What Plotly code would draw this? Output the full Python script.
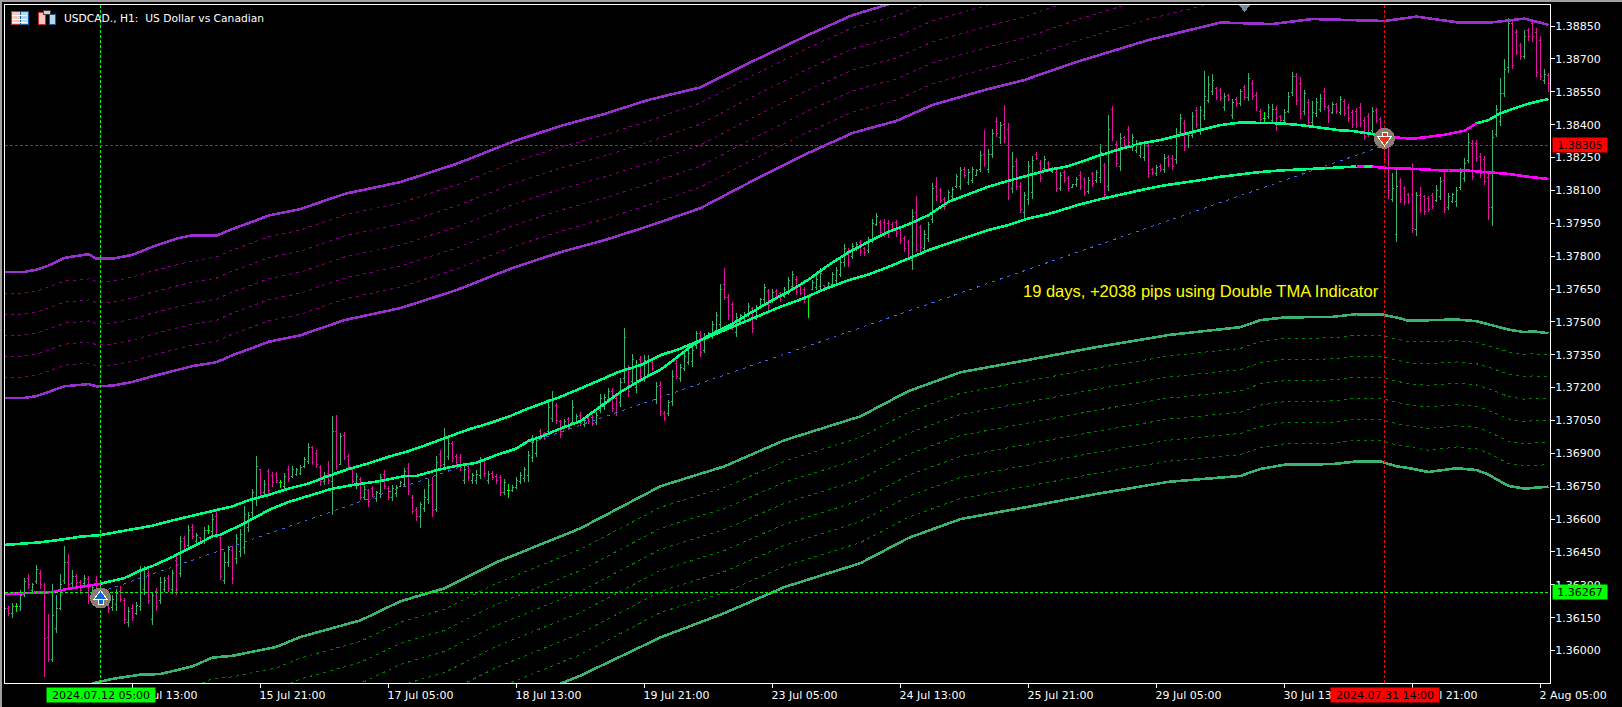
import plotly.graph_objects as go

# ---------- data: prices are stored as points above 1.36000 (1 point = 0.00001) ----------
time_ticks = [0, 32, 64, 96, 128, 160, 192, 224, 256, 288, 320, 352, 384]
time_labels = ["11 Jul 2024", "12 Jul 13:00", "15 Jul 21:00", "17 Jul 05:00", "18 Jul 13:00",
               "19 Jul 21:00", "23 Jul 05:00", "24 Jul 13:00", "25 Jul 21:00", "29 Jul 05:00",
               "30 Jul 13:00", "31 Jul 21:00", "2 Aug 05:00"]
price_ticks = [1.36000, 1.36150, 1.36300, 1.36450, 1.36600, 1.36750, 1.36900, 1.37050, 1.37200, 1.37350,
               1.37500, 1.37650, 1.37800, 1.37950, 1.38100, 1.38250, 1.38400, 1.38550, 1.38700, 1.38850]

highs = [
202,202,217,217,275,333,351,310,389,366,308,168,302,252,351,476,442,366,351,323,
345,342,305,339,305,282,260,252,282,293,241,199,211,221,386,387,374,269,285,334,
336,343,366,435,524,524,572,579,538,518,564,573,622,637,526,450,479,476,530,556,
658,632,739,887,830,777,830,816,816,777,812,841,841,835,846,884,945,933,917,846,
816,864,1070,1074,991,997,896,834,811,793,750,739,750,729,808,823,750,755,755,773,
831,858,709,656,679,736,785,790,887,914,1015,968,957,896,896,846,854,811,823,884,
881,820,820,808,803,785,762,755,790,816,838,910,986,978,1009,998,1150,1184,1132,1054,
1059,1066,1142,1079,1088,1059,1069,1074,1089,1170,1170,1196,1196,1165,1246,1474,1302,1352,1328,1343,
1348,1348,1325,1226,1229,1091,1145,1279,1325,1310,1356,1371,1386,1459,1459,1447,1454,1503,1546,1675,
1744,1629,1590,1541,1538,1546,1584,1569,1579,1611,1672,1652,1648,1652,1637,1660,1706,1731,1709,1668,
1660,1622,1690,1713,1748,1668,1683,1728,1751,1786,1855,1835,1861,1865,1873,1843,1888,1969,1995,1964,
1969,1964,1957,1967,1931,1894,1873,2013,2074,1942,1919,1957,2136,2159,2112,2071,2101,2117,2177,2205,
2205,2196,2208,2197,2279,2375,2287,2378,2433,2410,2490,2406,2273,2246,2139,2094,2235,2257,2273,2238,
2257,2235,2205,2193,2185,2193,2167,2129,2162,2188,2162,2159,2185,2193,2311,2226,2444,2485,2325,2360,
2348,2394,2357,2330,2322,2322,2314,2200,2216,2220,2266,2261,2261,2383,2447,2421,2368,2459,2482,2486,
2645,2623,2631,2573,2566,2546,2540,2515,2525,2561,2581,2634,2604,2547,2470,2458,2494,2494,2485,2444,
2471,2547,2639,2634,2616,2558,2517,2509,2520,2538,2566,2490,2502,2500,2531,2515,2493,2467,2474,2497,
2436,2451,2479,2474,2436,2368,2322,2178,2197,2155,2121,2086,2223,2094,2114,2079,2074,2086,2124,2162,
2185,2089,2089,2117,2200,2246,2360,2330,2330,2269,2258,2178,2375,2490,2611,2698,2885,2878,2835,2771,
2832,2840,2881,2840,2805,2652,2634]

lows = [
153,156,147,176,180,244,282,260,302,282,-121,-52,-52,80,183,305,282,290,295,260,
295,214,221,244,206,199,171,179,179,221,123,107,133,161,179,255,211,116,180,214,
267,267,260,253,336,460,470,508,485,495,488,534,526,515,320,302,381,302,394,427,
439,541,610,658,698,704,709,747,765,742,735,770,788,796,800,831,851,846,835,750,
755,762,618,823,846,869,826,755,739,686,689,656,701,679,698,739,686,683,701,747,
750,709,622,590,558,633,668,610,633,831,835,869,860,843,820,762,774,762,759,785,
793,762,777,762,706,709,697,724,739,762,770,770,861,884,967,960,983,1044,1036,969,
1013,1005,1028,1033,1024,1021,1036,1024,1028,1082,1100,1132,1089,1069,1112,1219,1158,1216,1176,1234,
1226,1249,1276,1127,1069,1048,1069,1117,1238,1226,1276,1302,1292,1378,1340,1356,1424,1424,1447,1459,
1602,1508,1465,1432,1492,1508,1520,1450,1508,1561,1584,1556,1584,1602,1591,1607,1622,1645,1622,1622,
1587,1518,1645,1645,1645,1645,1652,1657,1675,1703,1751,1751,1789,1824,1802,1802,1815,1858,1937,1896,
1888,1884,1914,1888,1855,1820,1794,1736,1817,1820,1820,1865,1952,2053,2041,2010,2041,2056,2109,2101,
2158,2124,2132,2165,2185,2205,2178,2246,2345,2310,2314,2056,2086,2101,1998,1972,2033,2063,2238,2139,
2193,2185,2178,2094,2097,2132,2097,2109,2117,2104,2074,2083,2114,2135,2135,2063,2097,2325,2208,2188,
2292,2302,2281,2269,2246,2234,2158,2170,2165,2185,2181,2205,2193,2220,2353,2280,2292,2337,2383,2353,
2421,2497,2535,2512,2509,2464,2508,2424,2482,2485,2512,2509,2512,2464,2409,2409,2424,2406,2372,2413,
2406,2451,2531,2490,2426,2444,2395,2394,2436,2459,2467,2409,2448,2448,2444,2439,2413,2383,2383,2388,
2330,2342,2360,2406,2337,2223,2059,2045,1866,2041,2033,2038,1904,1891,1995,1987,2003,2013,2048,2056,
1995,2010,2041,2025,2101,2140,2223,2147,2231,2158,2124,1964,1937,2342,2394,2528,2634,2654,2718,2695,
2698,2783,2779,2619,2604,2585,2550]

opens = [
165,190,170,200,200,260,330,275,315,350,295,60,-40,100,190,320,400,305,340,310,
305,325,240,320,230,270,240,195,210,270,230,130,190,170,200,280,350,140,270,230,
280,330,280,410,350,510,480,560,500,515,500,550,545,610,515,320,400,455,420,450,
470,560,630,700,825,720,815,800,805,765,750,825,795,805,810,840,865,925,900,835,
770,810,770,1000,850,980,885,825,755,780,700,730,740,695,715,805,740,700,715,750,
760,830,700,640,610,650,690,760,645,895,850,885,945,885,880,775,840,775,775,800,
865,775,810,795,790,720,730,730,745,770,785,800,880,900,1000,990,1000,1060,1120,1045,
1020,1055,1040,1040,1075,1030,1060,1065,1040,1095,1115,1145,1180,1150,1130,1240,1285,1230,1200,1330,
1245,1260,1315,1145,1210,1080,1080,1135,1310,1240,1285,1315,1320,1390,1445,1370,1430,1435,1460,1490,
1670,1610,1580,1450,1500,1515,1530,1560,1520,1570,1600,1640,1595,1640,1630,1615,1640,1660,1695,1660,
1650,1610,1650,1655,1660,1665,1660,1670,1690,1715,1770,1820,1800,1830,1860,1835,1825,1875,1945,1955,
1955,1950,1945,1955,1920,1880,1860,1780,2000,1930,1835,1880,1965,2120,2100,2060,2050,2070,2120,2120,
2195,2135,2145,2170,2195,2265,2195,2265,2415,2340,2400,2380,2110,2230,2120,2000,2060,2090,2265,2225,
2200,2225,2185,2180,2110,2180,2155,2112,2125,2170,2150,2095,2175,2145,2160,2215,2120,2470,2310,2210,
2340,2380,2295,2280,2260,2250,2300,2195,2175,2210,2195,2250,2245,2240,2365,2405,2305,2350,2465,2370,
2440,2510,2550,2565,2555,2480,2535,2440,2515,2495,2570,2525,2590,2535,2460,2430,2435,2420,2470,2435,
2420,2460,2545,2620,2590,2460,2500,2410,2450,2470,2550,2480,2455,2490,2455,2505,2480,2455,2460,2480,
2420,2435,2375,2465,2425,2350,2300,2060,1900,2140,2110,2080,2080,1920,2075,2070,2065,2075,2055,2070,
2145,2020,2050,2050,2115,2155,2235,2315,2315,2255,2240,2160,2020,2355,2415,2540,2660,2860,2820,2760,
2710,2830,2860,2820,2785,2600,2625]

closes = [
190,170,200,200,250,315,300,300,370,300,55,-40,160,190,300,400,300,340,310,275,
330,240,290,260,280,215,190,235,260,235,140,180,150,205,360,370,230,250,200,310,
320,285,350,280,500,475,550,520,525,500,550,550,600,530,340,400,460,330,510,530,
620,615,720,840,720,760,730,765,775,765,795,785,825,825,835,870,925,860,850,770,
800,775,1000,840,975,880,840,770,795,700,735,680,710,720,790,750,700,740,745,765,
815,725,635,610,665,700,755,640,860,845,975,945,875,860,835,825,790,800,805,865,
810,805,790,775,720,765,730,745,775,800,825,890,950,960,980,970,1110,1150,1050,985,
1045,1020,1110,1070,1035,1050,1045,1035,1075,1150,1155,1180,1105,1085,1225,1430,1180,1330,1300,1250,
1325,1330,1285,1205,1090,1060,1130,1250,1250,1290,1340,1355,1370,1445,1360,1430,1445,1490,1530,1650,
1610,1530,1480,1520,1530,1535,1570,1470,1565,1600,1655,1575,1635,1615,1600,1650,1690,1715,1635,1630,
1600,1610,1680,1695,1720,1650,1675,1715,1735,1770,1835,1770,1845,1855,1820,1815,1875,1950,1980,1910,
1905,1900,1925,1905,1870,1835,1810,1980,1830,1840,1900,1945,2110,2070,2055,2025,2090,2105,2165,2190,
2170,2180,2195,2190,2260,2225,2265,2360,2360,2395,2335,2140,2210,2120,2015,2075,2210,2235,2245,2155,
2240,2195,2200,2110,2170,2145,2110,2125,2150,2120,2090,2145,2130,2180,2275,2080,2380,2340,2225,2335,
2305,2320,2340,2315,2305,2305,2175,2180,2205,2195,2245,2220,2210,2355,2430,2300,2350,2435,2400,2465,
2530,2585,2600,2525,2520,2530,2515,2500,2495,2550,2525,2610,2530,2480,2425,2430,2480,2470,2430,2420,
2455,2530,2620,2510,2450,2540,2410,2455,2500,2520,2485,2465,2490,2460,2515,2450,2430,2400,2395,2405,
2345,2360,2460,2420,2350,2240,2100,2110,2120,2060,2050,2050,1925,2075,2010,2005,2015,2025,2100,2140,
2015,2070,2080,2100,2180,2225,2320,2165,2245,2175,2140,2020,2340,2470,2540,2650,2860,2670,2730,2710,
2800,2800,2800,2640,2620,2630,2590]

fast_x = [0,7,12,16,20,24,30,34,37,42,47,52,54,59,64,66,71,76,82,87,94,100,103,108,113,118,123,128,131,134,
          139,144,149,154,159,164,167,172,177,182,187,192,197,201,206,211,216,221,226,231,236,241,246,251,256,261,266,
          269,274,279,284,289,294,299,304,309,314,319,324,329,334,337,342,345,350,352,355,360,365,368,371,374,377,380,383,386]
fast_y = [258,263,267,282,295,305,331,366,386,427,473,521,529,572,620,641,678,706,739,755,774,796,797,823,843,857,892,922,957,975,
          1013,1047,1112,1180,1234,1282,1322,1394,1447,1492,1546,1599,1648,1693,1759,1817,1865,1911,1945,1987,2048,2082,2117,2144,2170,2193,2211,
          2231,2261,2289,2314,2330,2353,2378,2398,2410,2409,2406,2398,2385,2374,2371,2357,2345,2337,2336,2342,2354,2372,2406,2421,2452,2471,2490,2505,2517]
slow_x = [0,4,9,14,19,24,29,34,37,42,47,52,57,61,66,71,76,81,86,91,96,101,106,111,116,121,126,131,134,
          139,144,149,154,159,164,169,174,179,184,189,194,199,205,211,216,221,226,231,236,241,246,251,256,261,266,
          269,274,279,284,289,294,299,304,309,314,319,324,329,334,338,340,342,346,351,356,361,366,371,376,381,386]
slow_y = [482,488,494,506,520,527,544,561,570,594,614,637,658,686,710,739,762,797,828,854,884,910,942,975,1009,1036,1067,1105,1125,
          1158,1196,1234,1275,1302,1348,1378,1416,1454,1492,1531,1569,1602,1649,1690,1716,1751,1789,1827,1858,1888,1919,1942,1972,1992,2022,
          2037,2060,2082,2101,2120,2132,2147,2162,2173,2184,2191,2197,2200,2205,2209,2209,2208,2202,2199,2194,2190,2190,2181,2175,2162,2152]

upper_x = [0,5,8,11,15,21,23,27,32,37,43,47,53,57,62,66,74,85,99,113,127,139,150,161,174,186,201,212,223,232,245,255,268,286,304,317,327,345,353,364,371,380,386]
upper_1 = [1727,1728,1738,1757,1792,1809,1788,1788,1806,1843,1880,1895,1893,1924,1957,1985,2015,2084,2138,2221,2322,2394,2449,2513,2570,2680,2810,2900,2960,3040,3134,3180,3262,3362,3442,3435,3458,3449,3469,3441,3441,3460,3431]
upper_2 = [1629,1632,1640,1661,1686,1696,1684,1687,1704,1732,1759,1778,1796,1828,1861,1889,1919,1988,2043,2125,2226,2298,2353,2417,2499,2614,2751,2842,2897,2970,3038,3084,3166,3266,3346,3339,3362,3353,3373,3345,3345,3364,3335]
upper_3 = [1534,1536,1544,1565,1590,1600,1588,1591,1608,1636,1663,1682,1700,1732,1765,1793,1823,1892,1947,2029,2130,2202,2257,2321,2403,2518,2655,2746,2801,2874,2942,2988,3070,3170,3250,3243,3266,3257,3277,3249,3249,3268,3239]
upper_4 = [1438,1440,1448,1469,1494,1504,1492,1495,1512,1540,1567,1586,1604,1636,1669,1697,1727,1796,1851,1933,2034,2106,2161,2225,2307,2422,2559,2650,2705,2778,2846,2892,2974,3074,3154,3147,3170,3161,3181,3153,3153,3172,3143]
upper_5 = [1342,1344,1352,1373,1398,1408,1396,1399,1416,1444,1471,1490,1508,1540,1573,1601,1631,1700,1755,1837,1938,2010,2065,2129,2211,2326,2463,2554,2609,2682,2750,2796,2878,2978,3058,3051,3074,3065,3085,3057,3057,3076,3047]
upper_6 = [1246,1248,1256,1277,1302,1312,1300,1303,1320,1348,1375,1394,1412,1444,1477,1505,1535,1604,1659,1741,1842,1914,1969,2033,2115,2230,2367,2458,2513,2586,2654,2700,2782,2882,2962,2955,2978,2969,2989,2961,2961,2980,2951]
upper_7 = [1153,1153,1161,1180,1206,1216,1206,1209,1226,1252,1279,1298,1316,1348,1381,1409,1439,1508,1563,1645,1746,1818,1873,1937,2019,2134,2271,2362,2417,2490,2558,2604,2686,2786,2866,2859,2882,2873,2893,2865,2865,2884,2855]

lower_x = [22,27,34,39,47,52,57,64,68,74,89,99,110,123,144,164,180,195,214,226,239,257,273,291,309,314,320,332,338,344,348,351,356,363,368,371,376,380,382,386]
lower_1 = [-150,-129,-110,-107,-72,-32,-24,0,17,62,138,225,284,403,558,750,841,960,1069,1184,1270,1330,1385,1440,1476,1508,1520,1523,1535,1535,1520,1505,1508,1511,1503,1489,1465,1453,1457,1448]
lower_2 = [-246,-225,-206,-203,-168,-128,-120,-96,-79,-34,42,129,188,307,462,654,745,864,973,1088,1174,1234,1289,1344,1379,1411,1424,1427,1439,1439,1423,1409,1409,1414,1406,1391,1363,1351,1355,1348]
lower_3 = [-342,-321,-302,-299,-264,-224,-216,-192,-175,-130,-54,33,92,211,366,558,649,768,877,992,1078,1138,1193,1248,1282,1314,1328,1331,1343,1343,1326,1313,1310,1317,1309,1293,1261,1249,1253,1248]
lower_4 = [-438,-417,-398,-395,-360,-320,-312,-288,-271,-226,-150,-63,-4,115,270,462,553,672,781,896,982,1042,1097,1152,1185,1217,1232,1235,1247,1247,1229,1217,1211,1220,1212,1195,1159,1147,1151,1148]
lower_5 = [-534,-513,-494,-491,-456,-416,-408,-384,-367,-322,-246,-159,-100,19,174,366,457,576,685,800,886,946,1001,1056,1088,1120,1136,1139,1151,1151,1132,1121,1112,1123,1115,1097,1057,1045,1049,1048]
lower_6 = [-630,-609,-590,-587,-552,-512,-504,-480,-463,-418,-342,-255,-196,-77,78,270,361,480,589,704,790,850,905,960,991,1023,1040,1043,1055,1055,1035,1025,1013,1026,1018,999,955,943,947,948]
lower_7 = [-726,-705,-686,-683,-648,-608,-600,-576,-559,-514,-438,-351,-292,-173,-18,174,265,384,493,608,694,754,809,864,894,926,944,947,959,959,938,929,914,929,921,901,853,841,845,848]
lower_8 = [-822,-801,-782,-779,-744,-704,-696,-672,-655,-610,-534,-447,-388,-269,-114,60,171,290,399,514,600,660,715,770,797,829,848,851,863,863,841,833,815,832,824,803,751,739,743,748]

entry_bar, entry_price = 24, 1.36267
exit_bar, exit_price = 345, 1.38305
entry_mark, exit_mark = 240, 2337
top_flag_bar = 310
note_bar, note_pts = 254, 1642
note_text = "19 days, +2038 pips using Double TMA Indicator"
title_text = "USDCAD., H1:\u00a0 US Dollar vs Canadian"
entry_time, exit_time = "2024.07.12 05:00", "2024.07.31 14:00"

# ---------- styling ----------
W, H, L, R, T, B = 1622, 707, 5, 1550, 5, 683
UP, DOWN, DOJI = "#3CB371", "#E0119D", "#00FF00"
FAST_G, FAST_M = "#00FF7F", "#FF00FF"
ORCHID, PURPLE, SEA, DGREEN = "#9932CC", "#800080", "#3CB371", "#008000"
Y_TOP, Y_BOT = 2946, -148
THIN = "3px,4px"


def pr(values):
    return [round(1.36 + v * 1e-5, 5) for v in values]


def px_x(x):
    return (x - L) / (R - L)


def px_y(y):
    return (B - y) / (B - T)


fig = go.Figure()

for ys, color, width, dash in [
    (upper_2, PURPLE, 1, THIN), (upper_3, PURPLE, 1, THIN), (upper_4, PURPLE, 1, THIN),
    (upper_5, PURPLE, 1, THIN), (upper_6, PURPLE, 1, THIN),
    (upper_1, ORCHID, 2.6, None), (upper_7, ORCHID, 2.6, None)]:
    fig.add_trace(go.Scatter(x=upper_x, y=pr(ys), mode="lines", hoverinfo="skip",
                             line=dict(color=color, width=width, dash=dash)))

for ys, color, width, dash in [
    (lower_2, DGREEN, 1, THIN), (lower_3, DGREEN, 1, THIN), (lower_4, DGREEN, 1, THIN),
    (lower_5, DGREEN, 1, THIN), (lower_6, DGREEN, 1, THIN), (lower_7, DGREEN, 1, THIN),
    (lower_1, SEA, 2.6, None), (lower_8, SEA, 2.6, None)]:
    fig.add_trace(go.Scatter(x=lower_x, y=pr(ys), mode="lines", hoverinfo="skip",
                             line=dict(color=color, width=width, dash=dash)))

bars = list(range(len(highs)))
normal = [i for i in bars if opens[i] != closes[i]]
doji = [i for i in bars if opens[i] == closes[i]]
for idx, inc, dec in [(normal, UP, DOWN), (doji, DOJI, DOJI)]:
    fig.add_trace(go.Ohlc(x=idx,
                          open=pr([opens[i] for i in idx]), high=pr([highs[i] for i in idx]),
                          low=pr([lows[i] for i in idx]), close=pr([closes[i] for i in idx]),
                          increasing=dict(line=dict(color=inc, width=1)),
                          decreasing=dict(line=dict(color=dec, width=1)),
                          tickwidth=0.3, hoverinfo="skip"))

fig.add_trace(go.Scatter(x=[entry_bar, exit_bar], y=[entry_price, exit_price], mode="lines", hoverinfo="skip",
                         line=dict(color="#4169E1", width=1, dash="3px,5px")))


def segment(xs, ys, a, b, color):
    keep = [k for k, x in enumerate(xs) if a <= x <= b]
    fig.add_trace(go.Scatter(x=[xs[k] for k in keep], y=pr([ys[k] for k in keep]), mode="lines", hoverinfo="skip",
                             line=dict(color=color, width=2.6)))


for a, b, c in [(0, 24, FAST_M), (24, 345, FAST_G), (345, 368, FAST_M), (368, 386, FAST_G)]:
    segment(fast_x, fast_y, a, b, c)
for a, b, c in [(0, 338, FAST_G), (338, 340, FAST_M), (340, 342, FAST_G), (342, 386, FAST_M)]:
    segment(slow_x, slow_y, a, b, c)

y_low, y_high = 1.36 + Y_BOT * 1e-5, 1.36 + Y_TOP * 1e-5
x_low, x_high = 0.125, 386.375
for xs, ys, c in [([entry_bar, entry_bar], [y_low, y_high], "#00FF00"),
                  ([x_low, x_high], [entry_price, entry_price], "#00FF00"),
                  ([exit_bar, exit_bar], [y_low, y_high], "#FF0000"),
                  ([x_low, x_high], [exit_price, exit_price], "#FF0000")]:
    fig.add_trace(go.Scatter(x=xs, y=ys, mode="lines", hoverinfo="skip",
                             line=dict(color=c, width=1, dash="3px,2px")))

# trade arrows: grey disc, then a stem and a head
fig.add_trace(go.Scatter(x=[entry_bar, exit_bar], y=pr([entry_mark, exit_mark]), mode="markers", hoverinfo="skip",
                         marker=dict(symbol="circle", size=21, color="#8A7E72", line=dict(width=0))))
for bar, mark, sign, sym, col in [(entry_bar, entry_mark, 1, "triangle-up", "#0A6CD0"),
                                  (exit_bar, exit_mark, -1, "triangle-down", "#F03010")]:
    fig.add_trace(go.Scatter(x=[bar], y=pr([mark - sign * 18]), mode="markers", hoverinfo="skip",
                             marker=dict(symbol="square", size=5, color=col, line=dict(color="white", width=1))))
    fig.add_trace(go.Scatter(x=[bar], y=pr([mark + sign * 6]), mode="markers", hoverinfo="skip",
                             marker=dict(symbol=sym, size=12, color=col, line=dict(color="white", width=1))))
fig.add_trace(go.Scatter(x=[top_flag_bar], y=[1.36 + (Y_TOP - 10) * 1e-5], mode="markers", hoverinfo="skip",
                         marker=dict(symbol="triangle-down", size=10, color="#778899")))

# window chrome and toolbar icons (pixel placed, not data)
shapes = []


def rect(x0, y0, x1, y1, fill=None, line=None, lw=1):
    shapes.append(dict(type="rect", xref="paper", yref="paper", x0=px_x(x0), x1=px_x(x1), y0=px_y(y1), y1=px_y(y0),
                       fillcolor=fill or "rgba(0,0,0,0)", line=dict(color=line or "rgba(0,0,0,0)", width=lw if line else 0)))


rect(0, 0, 1622, 2, fill="#A0A0A0")
rect(0, 0, 2, 707, fill="#A0A0A0")
# icon one
rect(11, 11, 20, 24, fill="#F8C8C0", line="#C03028")
rect(20, 11, 28, 24, fill="#B0D8F0", line="#1060A0")
for yy in (15, 18.5, 21.5):
    rect(12, yy, 27, yy + 1, fill="#FFFFFF")
# icon two
rect(38, 12, 45, 24, fill="#F8C8C0", line="#C03028")
rect(49, 14, 55, 24, fill="#B0D8F0", line="#1060A0")
rect(43, 10, 50, 14, fill="#D0D0D0", line="#404040")
fig.update_layout(shapes=shapes)

label_font = dict(family="DejaVu Sans", size=11, color="black")
annotations = [
    dict(text=title_text, xref="paper", yref="paper", x=px_x(61.5), y=px_y(18.5), xanchor="left", yanchor="middle",
         showarrow=False, font=dict(family="DejaVu Sans", size=10.7, color="white")),
    dict(text=note_text, x=note_bar, y=1.36 + note_pts * 1e-5, xanchor="left", yanchor="middle", showarrow=False,
         font=dict(family="Liberation Sans", size=16.5, color="#FFFF00")),
    dict(text="%.5f" % exit_price, xref="paper", x=px_x(1580), y=exit_price, xanchor="center", yanchor="middle",
         showarrow=False, bgcolor="#FF0000", width=54, height=14, borderpad=0, font=label_font),
    dict(text="%.5f" % entry_price, xref="paper", x=px_x(1580), y=entry_price, xanchor="center", yanchor="middle",
         showarrow=False, bgcolor="#00FF00", width=54, height=14, borderpad=0, font=label_font),
    dict(text=entry_time, yref="paper", x=entry_bar, y=px_y(695), xanchor="center", yanchor="middle",
         showarrow=False, bgcolor="#00FF00", width=108, height=14, borderpad=0, font=label_font),
    dict(text=exit_time, yref="paper", x=exit_bar, y=px_y(695), xanchor="center", yanchor="middle",
         showarrow=False, bgcolor="#FF0000", width=108, height=14, borderpad=0, font=label_font),
]

fig.update_layout(
    width=W, height=H, autosize=False, showlegend=False,
    paper_bgcolor="black", plot_bgcolor="black",
    margin=dict(l=L, r=W - R, t=T, b=H - B, pad=0),
    annotations=annotations,
    hovermode=False,
    font=dict(family="DejaVu Sans", size=11, color="white"),
    xaxis=dict(range=[x_low, x_high], tickmode="array", tickvals=time_ticks, ticktext=time_labels,
               rangeslider=dict(visible=False), showgrid=False, zeroline=False,
               showline=True, linecolor="white", linewidth=1, mirror=True,
               ticks="outside", ticklen=4, tickcolor="white", tickwidth=1,
               ticklabelposition="outside right", tickangle=0, ticklabelshift=-2, ticklabelstandoff=2,
               tickfont=dict(family="DejaVu Sans", size=11, color="white")),
    yaxis=dict(range=[y_low, y_high], side="right", tickmode="array", tickvals=price_ticks,
               ticktext=["%.5f" % p for p in price_ticks], showgrid=False, zeroline=False,
               showline=True, linecolor="white", linewidth=1, mirror=True,
               ticks="outside", ticklen=4, tickcolor="white", tickwidth=1, ticklabelstandoff=-2,
               tickfont=dict(family="DejaVu Sans", size=11, color="white")),
)

fig.write_html("out.html", config=dict(displayModeBar=False, staticPlot=True),
               post_script="document.body.style.margin='0';document.body.style.background='black';document.body.style.overflow='hidden';"
                           "var s=document.createElement('style');s.textContent='svg path{shape-rendering:crispEdges}';document.head.appendChild(s);")
